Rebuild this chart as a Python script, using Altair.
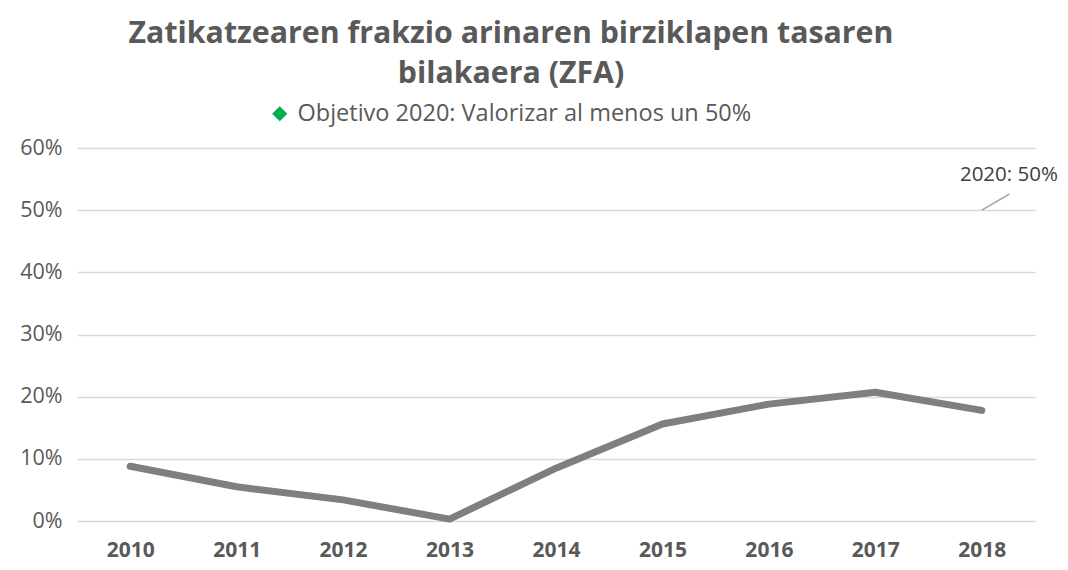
import altair as alt
import pandas as pd

years = [2010, 2011, 2012, 2013, 2014, 2015, 2016, 2017, 2018]
rates = [0.088, 0.055, 0.034, 0.003, 0.085, 0.156, 0.188, 0.207, 0.178]

target_name = "Objetivo 2020: Valorizar al menos un 50%"
target_year = [2018]
target_value = [0.50]

label_text = ["2020: 50%"]
leader_x = [2018.0, 2018.26]
leader_y = [0.500, 0.526]
label_x = [2018.255]
label_y = [0.556]

FONT = "Open Sans"
GREY = "#595959"

df = pd.DataFrame({"year": years, "rate": rates})
tgt = pd.DataFrame({"year": target_year, "rate": target_value, "serie": [target_name]})
leader = pd.DataFrame({"year": leader_x, "rate": leader_y})
lab = pd.DataFrame({"year": label_x, "rate": label_y, "txt": label_text})

xscale = alt.Scale(domain=[2009.5, 2018.5], nice=False, zero=False)
yscale = alt.Scale(domain=[0, 0.6], nice=False)

xaxis = alt.Axis(values=years, format="d", title=None, grid=False, domain=False, ticks=False,
                 labelFont=FONT, labelFontSize=21, labelFontWeight="bold", labelColor=GREY,
                 labelPadding=18)
yaxis = alt.Axis(values=[0, 0.1, 0.2, 0.3, 0.4, 0.5, 0.6], format=".0%", title=None,
                 domain=False, ticks=False, grid=True, gridColor="#d9d9d9", gridWidth=1.3,
                 labelFont=FONT, labelFontSize=21.5, labelColor=GREY, labelPadding=15)

line = alt.Chart(df).mark_line(color="#7f7f7f", strokeWidth=7, strokeCap="round", strokeJoin="round").encode(
    x=alt.X("year:Q", scale=xscale, axis=xaxis),
    y=alt.Y("rate:Q", scale=yscale, axis=yaxis),
)

target = alt.Chart(tgt).mark_point(filled=True, opacity=0, shape="diamond").encode(
    x=alt.X("year:Q", scale=xscale),
    y=alt.Y("rate:Q", scale=yscale),
    color=alt.Color("serie:N", scale=alt.Scale(domain=[target_name], range=["#00B050"]),
                    legend=alt.Legend(title=None, orient="none", legendX=191, legendY=-46,
                                      symbolType="diamond", symbolSize=230, symbolOpacity=1,
                                      symbolStrokeWidth=0, labelFont=FONT, labelFontSize=23.5,
                                      labelColor=GREY, labelLimit=700, labelOffset=6)),
)

lead = alt.Chart(leader).mark_line(color="#a6a6a6", strokeWidth=1.5).encode(
    x=alt.X("year:Q", scale=xscale),
    y=alt.Y("rate:Q", scale=yscale),
)

text = alt.Chart(lab).mark_text(font=FONT, fontSize=20.5, color="#404040", align="center", baseline="middle").encode(
    x=alt.X("year:Q", scale=xscale),
    y=alt.Y("rate:Q", scale=yscale),
    text="txt:N",
)

chart = alt.layer(line, target, lead, text).properties(
    width=958,
    height=373,
    title=alt.Title(["Zatikatzearen frakzio arinaren birziklapen tasaren", "bilakaera (ZFA)"],
                    font=FONT, fontSize=30.3, fontWeight="bold", color=GREY, lineHeight=40,
                    anchor="middle", dx=-45, offset=13),
    autosize=alt.AutoSizeParams(type="none"),
    padding={"left": 69, "top": 140, "right": 25, "bottom": 41},
).configure_view(stroke=None)

chart.save("out.html", embed_options={"renderer": "svg", "actions": False})
